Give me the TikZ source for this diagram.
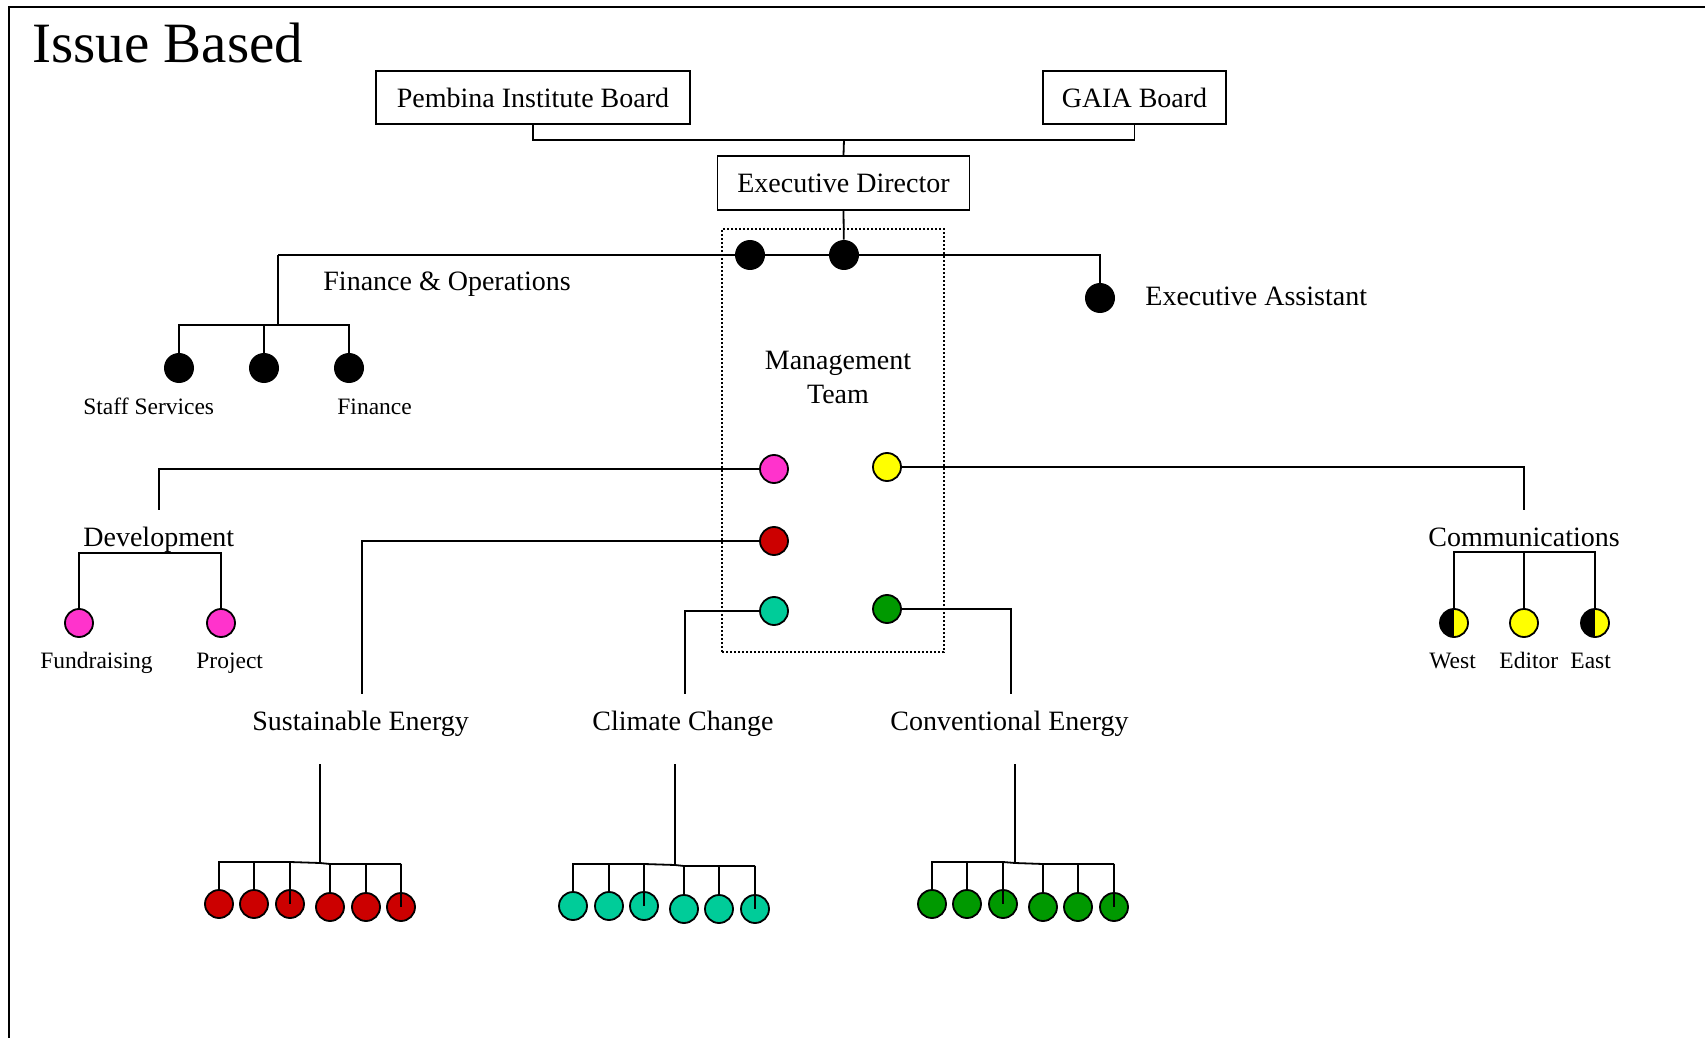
\documentclass[tikz,border=0pt]{standalone}
\usepackage{fontspec}
\setmainfont{Liberation Serif}
\usetikzlibrary{backgrounds}
\definecolor{cpink}{HTML}{FF33CC}
\definecolor{cyel}{HTML}{FFFF00}
\definecolor{cred}{HTML}{CC0000}
\definecolor{cteal}{HTML}{00CC99}
\definecolor{cgreen}{HTML}{009900}
\begin{document}
\begin{tikzpicture}[x=0.5pt,y=-0.5pt,
  lbl/.style={font=\fontsize{14}{17}\selectfont, inner sep=0pt, anchor=base west},
  small/.style={font=\fontsize{11.75}{14}\selectfont, inner sep=0pt, anchor=base west},
  box/.style={draw, line width=0.9pt, font=\fontsize{14}{17}\selectfont, inner sep=0pt, minimum height=26.5pt},
  link/.style={line width=0.9pt},
  dot/.style={circle, draw, line width=0.9pt, minimum size=14pt, inner sep=0pt},
  bdot/.style={circle, fill=black, minimum size=15pt, inner sep=0pt},
  halfdot/.style={dot, fill=cyel, path picture={\fill[black] (path picture bounding box.south west) rectangle (path picture bounding box.north);}}
]
\useasboundingbox (0,0) rectangle (1705,1038);

% page frame
\draw[line width=1.2pt] (9,1038) -- (9,7) -- (1705,7);

% title
\node[inner sep=0pt, anchor=base west, font=\fontsize{28.5}{34}\selectfont] (title) at (32,63) {Issue Based};

% boards and director
\node[box, minimum width=157pt] (pib) at (533,97.5) {Pembina Institute Board};
\node[box, minimum width=91.5pt] (gaia) at (1134.5,97.5) {GAIA Board};
\node[box, minimum width=126pt, minimum height=27pt] (ed) at (843.5,183) {Executive Director};
\coordinate (bj) at (844,140);

% management team frame
\node[draw, line width=0.9pt, dash pattern=on 1pt off 1pt, minimum width=111pt, minimum height=211.5pt, inner sep=0pt] (mgmt) at (833,440.5) {};
\node[align=center, inner sep=0pt, font=\fontsize{14}{17}\selectfont] (mteam) at (838,377) {Management\\Team};

% top row of black members
\node[bdot] (fo) at (750,255) {};
\node[bdot] (edm) at (844,255) {};
\node[bdot] (ea) at (1100,298) {};
\coordinate (foj) at (278,255);
\coordinate (fobar) at (278,325);
\node[lbl] (folbl) at (323,291) {Finance \& Operations};
\node[lbl] (ealbl) at (1145,306) {Executive Assistant};

% finance and operations staff
\node[bdot] (ss) at (179,368) {};
\node[bdot] (fo2) at (264,368) {};
\node[bdot] (fin) at (349,368) {};
\node[small] (sslbl) at (83,414) {Staff Services};
\node[small] (finlbl) at (337,414) {Finance};

% management team members
\node[dot, fill=cpink] (pink) at (774,469) {};
\node[dot, fill=cyel] (yel) at (887,467) {};
\node[dot, fill=cred] (red) at (774,541) {};
\node[dot, fill=cteal] (teal) at (774,611) {};
\node[dot, fill=cgreen] (grn) at (887,609) {};

% development
\coordinate (devtop) at (159,510);
\coordinate (devbar) at (159,553);
\node[lbl] (devlbl) at (83,546) {Development};
\node[dot, fill=cpink] (fund) at (79,623) {};
\node[dot, fill=cpink] (proj) at (221,623) {};
\node[small] (fundlbl) at (40,668) {Fundraising};
\node[small] (projlbl) at (196,668) {Project};

% communications
\coordinate (comtop) at (1524,510);
\coordinate (combar) at (1524,552);
\node[lbl] (comlbl) at (1428,546) {Communications};
\node[halfdot] (west) at (1454,623) {};
\node[dot, fill=cyel] (editor) at (1524,623) {};
\node[halfdot] (east) at (1595,623) {};
\node[small] (westlbl) at (1429,668) {West};
\node[small] (editorlbl) at (1499,668) {Editor};
\node[small] (eastlbl) at (1570,668) {East};

% program areas
\coordinate (setop) at (362,694);
\coordinate (cctop) at (685,694);
\coordinate (cetop) at (1011,694);
\node[lbl] (selbl) at (252,730) {Sustainable Energy};
\node[lbl] (cclbl) at (592,730) {Climate Change};
\node[lbl] (celbl) at (890,730) {Conventional Energy};

% program staff
\foreach \i/\x/\y in {1/219/904,2/254/904,3/290/904,4/330/907,5/366/907,6/401/907}
  \node[dot, fill=cred] (s\i) at (\x,\y) {};
\foreach \i/\x/\y in {1/573/906,2/609/906,3/644/906,4/684/909,5/719/909,6/755/909}
  \node[dot, fill=cteal] (c\i) at (\x,\y) {};
\foreach \i/\x/\y in {1/932/904,2/967/904,3/1003/904,4/1043/907,5/1078/907,6/1114/907}
  \node[dot, fill=cgreen] (v\i) at (\x,\y) {};
\coordinate (stop) at (320,764);  \coordinate (sj) at (320,863);
\coordinate (sbl) at (290,862);   \coordinate (sbr) at (401,864);
\coordinate (ctop) at (675,764);  \coordinate (cj) at (675,865);
\coordinate (cbl) at (644,864);   \coordinate (cbr) at (755,866);
\coordinate (vtop) at (1015,764); \coordinate (vj) at (1015,863);
\coordinate (vbl) at (1003,862);  \coordinate (vbr) at (1114,864);

\begin{pgfonlayer}{background}
  % board and director links
  \draw[link] (pib.south) |- (bj) -| (gaia.south);
  \draw[link] (bj) -- (ed.north);
  \draw[link] (ed.south) -- (edm);
  \draw[link] (foj) -| (ea);
  \draw[link] (foj) -- (fobar);
  \draw[link] (ss) |- (fobar) -| (fin);
  \draw[link] (fo2) -- (fo2 |- fobar);
  % management links
  \draw[link] (pink) -| (devtop);
  \draw[link] (fund) |- (devbar) -| (proj);
  \draw[link] (yel) -| (comtop);
  \draw[link] (west) |- (combar) -| (east);
  \draw[link] (editor) -- (combar);
  \draw[link] (red) -| (setop);
  \draw[link] (teal) -| (cctop);
  \draw[link] (grn) -| (cetop);
  % program staff links
  \draw[link] (stop) -- (sj);
  \draw[link] (s1) |- (sbl) -- (sj) -- (s4 |- sbr) -- (sbr);
  \draw[link] (s2) -- (s2 |- sbl);
  \draw[link] (s4) -- (s4 |- sbr);
  \draw[link] (s5) -- (s5 |- sbr);
  \draw[link] (ctop) -- (cj);
  \draw[link] (c1) |- (cbl) -- (cj) -- (c4 |- cbr) -- (cbr);
  \draw[link] (c2) -- (c2 |- cbl);
  \draw[link] (c4) -- (c4 |- cbr);
  \draw[link] (c5) -- (c5 |- cbr);
  \draw[link] (vtop) -- (vj);
  \draw[link] (v1) |- (vbl) -- (vj) -- (v4 |- vbr) -- (vbr);
  \draw[link] (v2) -- (v2 |- vbl);
  \draw[link] (v4) -- (v4 |- vbr);
  \draw[link] (v5) -- (v5 |- vbr);
\end{pgfonlayer}

% drops that run over their circles
\draw[link] (sbl) -- (s3.center);
\draw[link] (sbr) -- (s6.center);
\draw[link] (cbl) -- (c3.center);
\draw[link] (cbr) -- (c6.center);
\draw[link] (vbl) -- (v3.center);
\draw[link] (vbr) -- (v6.center);
\end{tikzpicture}
\end{document}
